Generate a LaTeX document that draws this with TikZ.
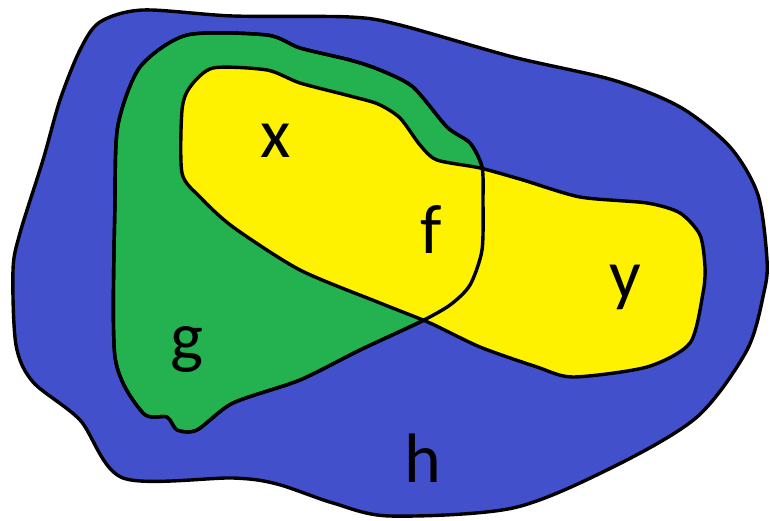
\documentclass[tikz,border=0pt]{standalone}
\usepackage{fontspec}
\setmainfont{Carlito}
\usepackage{tikz}
\usetikzlibrary{positioning}
\definecolor{regblue}{RGB}{67,80,204}
\definecolor{reggreen}{RGB}{36,177,80}
\definecolor{regyellow}{RGB}{255,242,0}

\begin{document}
\begin{tikzpicture}[
  x=1pt, y=-1pt,
  region/.style={draw=black, line width=3.4pt, line join=round},
  lbl/.style={inner sep=0pt, anchor=base, font=\fontsize{70}{70}\selectfont}
]
\useasboundingbox (0,0) rectangle (770,521);
% Outer region h
\draw[region, fill=regblue] plot[smooth cycle, tension=0.5] coordinates {
  (100,22) (143,10) (233,16) (350,17) (400,25) (513,57) (613,80) (680,107)
  (730,147) (758,195) (767,260) (764,292) (747,350) (697,417) (613,467)
  (513,508) (390,516) (333,503) (277,484) (233,478) (123,478) (80,420)
  (33,382) (16,345) (13,270) (20,233) (43,160) (60,100) (80,50)};
% Region g
\draw[region, fill=reggreen] plot[smooth cycle, tension=0.45] coordinates {
  (187,35) (267,35) (300,48) (350,60) (380,70) (413,87) (447,127) (470,143)
  (482,167) (483,200) (482,250) (470,285) (450,305) (420,322) (360,350)
  (300,380) (233,403) (197,430) (177,430) (167,417) (143,413) (115,357)
  (115,200) (118,125) (140,67)};
% Region x and y
\draw[region, fill=regyellow] plot[smooth cycle, tension=0.45] coordinates {
  (213,68) (267,70) (300,83) (350,96) (378,104) (400,118) (420,145) (437,160)
  (480,168) (523,180) (580,197) (647,203) (680,213) (700,235) (705,267)
  (703,293) (690,343) (647,367) (573,377) (537,367) (480,347) (430,323)
  (380,303) (300,270) (233,227) (200,197) (182,173) (182,110) (190,87)};
% Edge of g again, over the yellow
\draw[region] plot[smooth cycle, tension=0.45] coordinates {
  (187,35) (267,35) (300,48) (350,60) (380,70) (413,87) (447,127) (470,143)
  (482,167) (483,200) (482,250) (470,285) (450,305) (420,322) (360,350)
  (300,380) (233,403) (197,430) (177,430) (167,417) (143,413) (115,357)
  (115,200) (118,125) (140,67)};
% Labels
\node[lbl] (lx) at (276,158) {x};
\node[lbl] (lf) at (431,253) {f};
\node[lbl] (ly) at (625,298) {y};
\node[lbl] (lg) at (187,360) {g};
\node[lbl] (lh) at (423,482) {h};
\end{tikzpicture}
\end{document}
